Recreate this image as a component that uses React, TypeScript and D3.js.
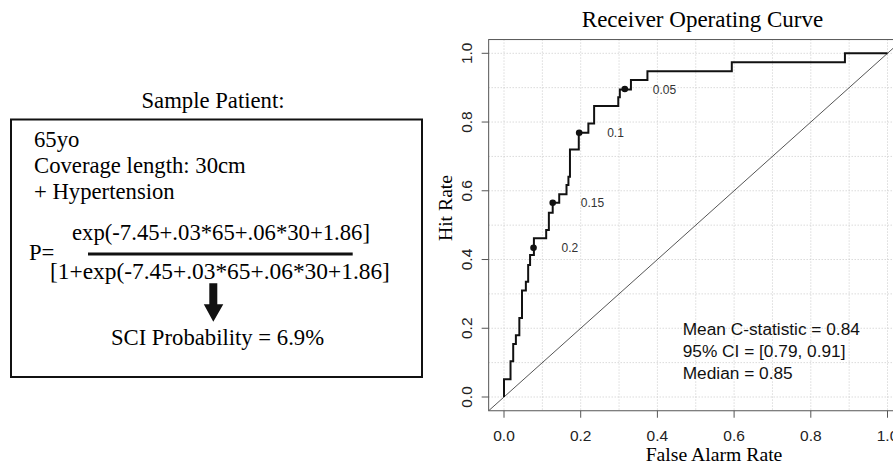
import * as d3 from "d3";

// ROC curve (step function): top of each rise
const rocFpr = [0, 0, 0.017, 0.024, 0.031, 0.04, 0.047, 0.057, 0.063, 0.068, 0.078, 0.11, 0.117, 0.127, 0.144, 0.163, 0.168, 0.172, 0.195, 0.22, 0.235, 0.298, 0.302, 0.331, 0.374, 0.594, 0.889, 1.0];
const rocTpr = [0, 0.052, 0.104, 0.154, 0.18, 0.23, 0.31, 0.335, 0.384, 0.413, 0.462, 0.486, 0.536, 0.565, 0.59, 0.617, 0.641, 0.72, 0.769, 0.796, 0.847, 0.872, 0.895, 0.922, 0.948, 0.974, 1.0, 1.0];

// threshold markers
const cutLabels = ["0.2", "0.15", "0.1", "0.05"];
const cutFpr = [0.077, 0.127, 0.196, 0.315];
const cutTpr = [0.434, 0.565, 0.769, 0.896];

const axisTicks = [0, 0.2, 0.4, 0.6, 0.8, 1.0];
const tickLabels = ["0.0", "0.2", "0.4", "0.6", "0.8", "1.0"];
const gridTicks = d3.range(0, 11).map((i) => i / 10);

const statLines = ["Mean C-statistic = 0.84", "95% CI = [0.79, 0.91]", "Median = 0.85"];
const patientLines = ["65yo", "Coverage length: 30cm", "+ Hypertension"];
const numerator = "exp(-7.45+.03*65+.06*30+1.86]";
const denominator = "[1+exp(-7.45+.03*65+.06*30+1.86]";
const resultText = "SCI Probability = 6.9%";

const serif = "'Liberation Serif', 'Times New Roman', serif";
const sans = "'Liberation Sans', Arial, sans-serif";

export default function App() {
  const width = 893;
  const height = 465;

  // R style axes: 4% padding around [0, 1]
  const x = d3.scaleLinear().domain([0, 1]).range([504, 887.5]);
  const y = d3.scaleLinear().domain([0, 1]).range([397, 53.3]);
  const x0 = x(-0.04), x1 = x(1.04);
  const y0 = y(-0.04), y1 = y(1.04);

  const rocPts: [number, number][] = rocFpr.map((f, i) => [f, rocTpr[i]]);
  const line = d3
    .line<[number, number]>()
    .x((d) => x(d[0]))
    .y((d) => y(d[1]))
    .curve(d3.curveStepAfter);

  return (
    <svg
      width={width}
      height={height}
      style={{ position: "absolute", left: 0, top: 0, background: "#fff" }}
    >
      <defs>
        <clipPath id="plot-clip">
          <rect x={x0} y={y1} width={x1 - x0} height={y0 - y1} />
        </clipPath>
      </defs>

      {/* left panel: sample patient */}
      <text x={213} y={108} textAnchor="middle" fontFamily={serif} fontSize={22.7}>
        Sample Patient:
      </text>
      <rect x={11} y={119.5} width={411} height={257.5} fill="none" stroke="#111" strokeWidth={2} />
      {patientLines.map((t, i) => (
        <text key={t} x={34} y={147 + i * 26} fontFamily={serif} fontSize={22.7}>
          {t}
        </text>
      ))}
      <text x={29} y={260} fontFamily={serif} fontSize={22.7}>P=</text>
      <text x={72} y={240} fontFamily={serif} fontSize={22.7}>{numerator}</text>
      <line x1={88} x2={352.7} y1={254} y2={254} stroke="#111" strokeWidth={3} />
      <text x={50} y={278.5} fontFamily={serif} fontSize={23.4}>{denominator}</text>
      <path
        d="M209.3,283.3 L217.3,283.3 L217.3,304.3 L223.3,304.3 L213.3,321.7 L203.8,304.3 L209.3,304.3 Z"
        fill="#111"
      />
      <text x={217.5} y={345} textAnchor="middle" fontFamily={serif} fontSize={22.7}>
        {resultText}
      </text>

      {/* right panel: ROC */}
      <text x={702.5} y={26.7} textAnchor="middle" fontFamily={serif} fontSize={23}>
        Receiver Operating Curve
      </text>

      <g clipPath="url(#plot-clip)">
        {gridTicks.map((t) => (
          <line key={"gx" + t} x1={x(t)} x2={x(t)} y1={y1} y2={y0} stroke="#c8c8c8" strokeDasharray="1,2" />
        ))}
        {gridTicks.map((t) => (
          <line key={"gy" + t} x1={x0} x2={x1} y1={y(t)} y2={y(t)} stroke="#c8c8c8" strokeDasharray="1,2" />
        ))}
        <line x1={x(-0.04)} y1={y(-0.04)} x2={x(1.04)} y2={y(1.04)} stroke="#555" strokeWidth={1} />
        <path d={line(rocPts) ?? ""} fill="none" stroke="#111" strokeWidth={2} />
        {cutFpr.map((f, i) => (
          <g key={cutLabels[i]}>
            <circle cx={x(f)} cy={y(cutTpr[i])} r={3.3} fill="#111" />
            <text x={x(f) + 28} y={y(cutTpr[i]) + 4.5} fontFamily={sans} fontSize={12} fill="#333">
              {cutLabels[i]}
            </text>
          </g>
        ))}
      </g>

      <rect x={x0} y={y1} width={x1 - x0} height={y0 - y1} fill="none" stroke="#555" strokeWidth={1} />

      {/* x axis */}
      {axisTicks.map((t, i) => (
        <g key={"xt" + t}>
          <line x1={x(t)} x2={x(t)} y1={y0} y2={y0 + 7} stroke="#555" />
          <text x={x(t)} y={441} textAnchor="middle" fontFamily={sans} fontSize={15.5} fill="#222">
            {tickLabels[i]}
          </text>
        </g>
      ))}
      <text x={714} y={461} textAnchor="middle" fontFamily={serif} fontSize={19.7}>
        False Alarm Rate
      </text>

      {/* y axis */}
      {axisTicks.map((t, i) => (
        <g key={"yt" + t}>
          <line x1={x0 - 7} x2={x0} y1={y(t)} y2={y(t)} stroke="#555" />
          <text
            transform={`translate(472,${y(t)}) rotate(-90)`}
            textAnchor="middle"
            fontFamily={sans}
            fontSize={15.5}
            fill="#222"
          >
            {tickLabels[i]}
          </text>
        </g>
      ))}
      <text transform="translate(452,208) rotate(-90)" textAnchor="middle" fontFamily={serif} fontSize={19.7}>
        Hit Rate
      </text>

      {/* summary statistics */}
      {statLines.map((t, i) => (
        <text key={t} x={682.7} y={335 + i * 22.2} fontFamily={sans} fontSize={17.3} fill="#111">
          {t}
        </text>
      ))}
    </svg>
  );
}
